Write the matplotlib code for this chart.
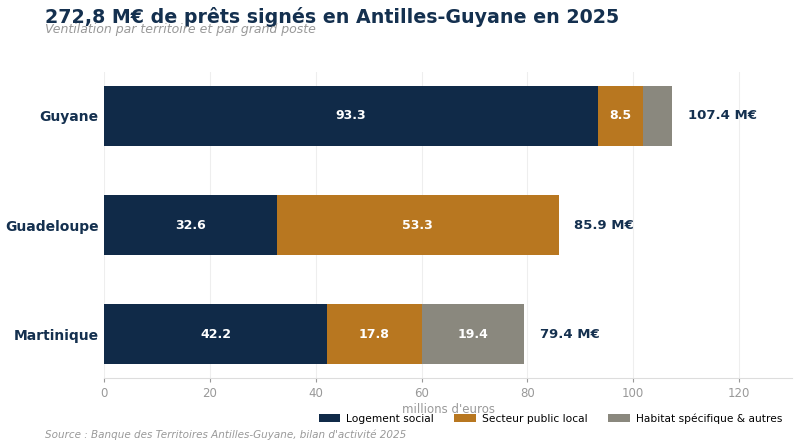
import matplotlib.pyplot as plt
import numpy as np

# Données (millions d'euros)
territoires = ['Martinique', 'Guadeloupe', 'Guyane']
logement_social = [42.2, 32.6, 93.3]
secteur_public = [17.8, 53.3, 8.5]
habitat_autres = [19.4, 0.0, 5.6]
totaux = [79.4, 85.9, 107.4]

postes = ['Logement social', 'Secteur public local', 'Habitat spécifique & autres']
couleurs = ['#102a48', '#b87720', '#8a887e']

fig = plt.figure(figsize=(8, 4.47), dpi=100)
ax = fig.add_axes([0.13, 0.154, 0.86, 0.685])

y = np.arange(len(territoires))
gauche = np.zeros(len(territoires))
for serie, nom, c in zip([logement_social, secteur_public, habitat_autres], postes, couleurs):
    serie = np.array(serie)
    ax.barh(y, serie, left=gauche, height=0.55, color=c, label=nom, zorder=3)
    for yi, g, v in zip(y, gauche, serie):
        if v >= 7:
            ax.text(g + v / 2, yi, f'{v:.1f}', ha='center', va='center',
                    color='white', fontsize=9, fontweight='bold', zorder=4)
    gauche += serie

for yi, t in zip(y, totaux):
    ax.text(t + 3, yi, f'{t:.1f} M€', ha='left', va='center',
            color='#14304f', fontsize=9.5, fontweight='bold')

ax.set_xlim(0, 130)
ax.set_xticks([0, 20, 40, 60, 80, 100, 120])
ax.set_yticks(y)
ax.set_yticklabels(territoires, fontsize=10, fontweight='bold', color='#14304f')
ax.tick_params(axis='y', length=0, pad=4)
ax.tick_params(axis='x', colors='#999999', labelsize=8.5, length=3)
ax.grid(axis='x', color='#eeeeee', linewidth=0.8, zorder=0)
for s in ['top', 'right', 'left']:
    ax.spines[s].set_visible(False)
ax.spines['bottom'].set_color('#dddddd')
ax.set_xlabel("millions d'euros", color='#999999', fontsize=8.5, labelpad=2)

fig.legend(loc='lower right', bbox_to_anchor=(0.99, 0.03), ncol=3, frameon=False,
           fontsize=7.7, handlelength=2.0, handleheight=0.7, handletextpad=0.6,
           columnspacing=1.9)

fig.text(0.056, 0.962, '272,8 M€ de prêts signés en Antilles-Guyane en 2025',
         fontsize=13.7, fontweight='bold', color='#14304f', va='center')
fig.text(0.056, 0.935, 'Ventilation par territoire et par grand poste',
         fontsize=9, style='italic', color='#999999', va='center')
fig.text(0.056, 0.028, "Source : Banque des Territoires Antilles-Guyane, bilan d'activité 2025",
         fontsize=7.5, style='italic', color='#999999', va='center')

fig.savefig('out.png', dpi=100)
